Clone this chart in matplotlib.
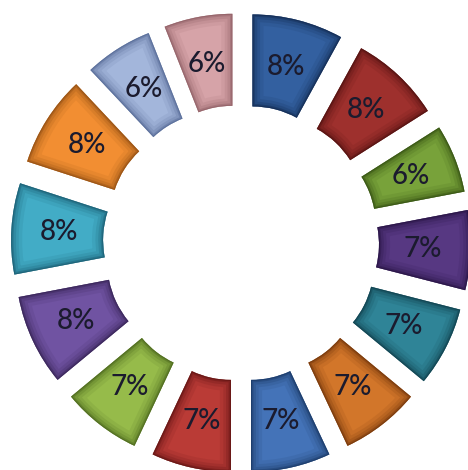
import matplotlib
matplotlib.use("Agg")
import matplotlib.pyplot as plt
from matplotlib.patches import Wedge

# data, clockwise from 12 o'clock
values = [8, 8, 6, 7, 7, 7, 7, 7, 7, 8, 8, 8, 6, 6]
labels = ["8%", "8%", "6%", "7%", "7%", "7%", "7%", "7%", "7%", "8%", "8%", "8%", "6%", "6%"]
colors = ["#3360A0", "#9E302D", "#78A23A", "#573882", "#2F8497", "#D2762A",
          "#4473B8", "#BA3B36", "#96BB4A", "#7053A2", "#42ACC6", "#F28E32",
          "#A3B6DB", "#D6A3A8"]
edges = ["#10264a", "#4a0f0e", "#2f4a10", "#23103e", "#0d3a46", "#6a3008",
         "#16345f", "#5a1110", "#45601a", "#32204f", "#18566a", "#8a4a10",
         "#4f6490", "#8a5a60"]

fig = plt.figure(figsize=(4.68, 4.70), dpi=100)
ax = fig.add_axes([0, 0, 1, 1])

wedges, texts, autotexts = ax.pie(
    values, colors=colors, startangle=90, counterclock=False,
    explode=[0.25] * len(values), radius=1.0,
    wedgeprops=dict(width=0.5, linewidth=0),
    autopct=lambda p: "", pctdistance=0.74)

# pie() resets the limits, so set them afterwards
scale = 184.0
ax.set_xlim(-241 / scale, (468 - 241) / scale)
ax.set_ylim(-227 / scale, (470 - 227) / scale)
ax.set_aspect("equal")
ax.axis("off")

# fake the bevel: dark strokes along the edge, clipped to the wedge
for w, ec in zip(wedges, edges):
    for lw, a in [(16, 0.10), (11, 0.14), (7, 0.2), (3.5, 0.35), (1.5, 0.6)]:
        s = Wedge(w.center, w.r, w.theta1, w.theta2, width=w.width,
                  facecolor="none", edgecolor=ec, linewidth=lw, alpha=a)
        ax.add_patch(s)
        s.set_clip_path(w)

for t, lab in zip(autotexts, labels):
    t.set_text(lab)
    t.set_fontfamily(["Lato", "DejaVu Sans"])
    t.set_fontsize(20)
    t.set_fontweight("medium")
    t.set_color("#1b1b2e")

fig.savefig("out.png", dpi=100)
